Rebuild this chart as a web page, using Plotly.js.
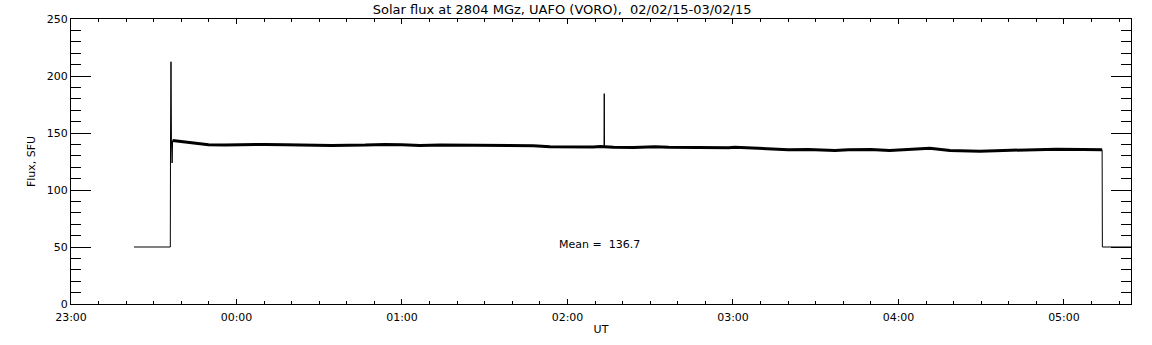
<!DOCTYPE html>
<html>
<head>
<meta charset="utf-8">
<script src="https://cdn.plot.ly/plotly-3.0.1.min.js"></script>
<style>html,body{margin:0;padding:0;background:#fff;}#chart{width:1152px;height:345px;}</style>
</head>
<body>
<div id="chart"></div>
<script>
// Leading step (pre-observation level) and switch-on transient
const startTimes = ['2015-02-02 23:22:50','2015-02-02 23:36:00','2015-02-02 23:36:05','2015-02-02 23:36:15','2015-02-02 23:36:25','2015-02-02 23:36:40','2015-02-02 23:36:50'];
const startFlux  = [50, 50, 143, 212.5, 143, 123.7, 143.5];

// Main observation series
const bodyTimes = [
 '2015-02-02 23:36:50','2015-02-02 23:38:30','2015-02-02 23:41:20','2015-02-02 23:43:10','2015-02-02 23:46:10',
 '2015-02-02 23:49:50','2015-02-02 23:55:50','2015-02-03 00:03:10','2015-02-03 00:10:20','2015-02-03 00:17:40',
 '2015-02-03 00:24:50','2015-02-03 00:28:30','2015-02-03 00:34:30','2015-02-03 00:46:40','2015-02-03 00:53:50',
 '2015-02-03 01:00:00','2015-02-03 01:06:30','2015-02-03 01:13:50','2015-02-03 01:23:30','2015-02-03 01:35:30',
 '2015-02-03 01:47:40','2015-02-03 01:53:40','2015-02-03 02:02:10','2015-02-03 02:09:20','2015-02-03 02:11:50',
 '2015-02-03 02:16:40','2015-02-03 02:24:00','2015-02-03 02:31:40','2015-02-03 02:36:40','2015-02-03 02:48:40',
 '2015-02-03 02:58:20','2015-02-03 03:00:40','2015-02-03 03:12:50','2015-02-03 03:20:00','2015-02-03 03:27:20',
 '2015-02-03 03:37:00','2015-02-03 03:41:50','2015-02-03 03:50:00','2015-02-03 03:56:50','2015-02-03 04:04:10',
 '2015-02-03 04:11:20','2015-02-03 04:18:40','2015-02-03 04:29:30','2015-02-03 04:38:00','2015-02-03 04:47:40',
 '2015-02-03 04:57:20','2015-02-03 05:07:00','2015-02-03 05:13:50'];
const bodyFlux = [
 143.5,143.0,142.4,141.2,140.6,
 139.7,139.4,140.0,140.0,139.7,
 139.4,138.9,139.1,139.4,140.0,
 139.8,139.1,139.4,139.1,138.9,
 138.9,138.0,137.7,137.7,138.2,
 137.4,137.2,138.0,137.4,137.1,
 137.1,137.6,136.2,135.4,135.6,
 134.7,135.4,135.6,134.7,135.4,
 136.6,134.7,133.9,134.7,135.2,
 135.8,135.5,135.2];

// Isolated burst
const spikeTimes = ['2015-02-03 02:13:15','2015-02-03 02:13:20','2015-02-03 02:13:25'];
const spikeFlux  = [137.7, 184.5, 137.7];

// Trailing step
const endTimes = ['2015-02-03 05:13:50','2015-02-03 05:13:55','2015-02-03 05:30:00'];
const endFlux  = [135.2, 50, 50];

const meanText = 'Mean =  136.7';
const meanPos = {x: '2015-02-03 01:56:20', y: 52.5};

const titleText = 'Solar flux at 2804 MGz, UAFO (VORO),  02/02/15-03/02/15';
const xRange = ['2015-02-02 23:00:00','2015-02-03 05:24:18'];
const yRange = [0, 250];

const FONT = 'DejaVu Sans, sans-serif';
const thin = {color:'#000', width:1};

const traces = [
 {x: startTimes, y: startFlux, mode:'lines', line: thin, hoverinfo:'skip'},
 {x: bodyTimes, y: bodyFlux, mode:'lines', line:{color:'#000', width:3}, hoverinfo:'skip'},
 {x: spikeTimes, y: spikeFlux, mode:'lines', line: thin, hoverinfo:'skip'},
 {x: endTimes, y: endFlux, mode:'lines', line: thin, hoverinfo:'skip'}
];

const layout = {
 width:1152, height:345,
 margin:{l:71, r:21, t:19, b:41, pad:0},
 paper_bgcolor:'#fff', plot_bgcolor:'#fff',
 showlegend:false,
 font:{family:FONT, size:11, color:'#000'},
 title:{text:titleText, x:0.488, xanchor:'center', y:0.972, yanchor:'middle', font:{family:FONT, size:13, color:'#000'}},
 xaxis:{
   type:'date', range:xRange, showgrid:false, zeroline:false,
   showline:true, linecolor:'#000', linewidth:1, mirror:'allticks',
   ticks:'inside', ticklen:5, tickcolor:'#000', tickwidth:1,
   dtick:3600000, tick0:'2015-02-02 23:00:00', tickformat:'%H:%M',
   ticklabelstandoff:3,
   minor:{ticks:'inside', ticklen:3, dtick:600000, tick0:'2015-02-02 23:00:00', tickcolor:'#000', showgrid:false},
   tickfont:{family:FONT, size:11, color:'#000'},
   title:{text:'UT', font:{family:FONT, size:11, color:'#000'}, standoff:2}
 },
 yaxis:{
   range:yRange, showgrid:false, zeroline:false,
   showline:true, linecolor:'#000', linewidth:1, mirror:'allticks',
   ticks:'inside', ticklen:20, tickcolor:'#000', tickwidth:1,
   dtick:50, tick0:0,
   minor:{ticks:'inside', ticklen:10, dtick:10, tickcolor:'#000', showgrid:false},
   tickfont:{family:FONT, size:11, color:'#000'},
   title:{text:'Flux, SFU', font:{family:FONT, size:11, color:'#000'}, standoff:8}
 },
 annotations:[{x:meanPos.x, y:meanPos.y, xref:'x', yref:'y', text:meanText, showarrow:false, xanchor:'left', yanchor:'middle', font:{family:FONT, size:11, color:'#000'}}]
};

Plotly.newPlot('chart', traces, layout, {staticPlot:true, displayModeBar:false});
</script>
</body>
</html>
